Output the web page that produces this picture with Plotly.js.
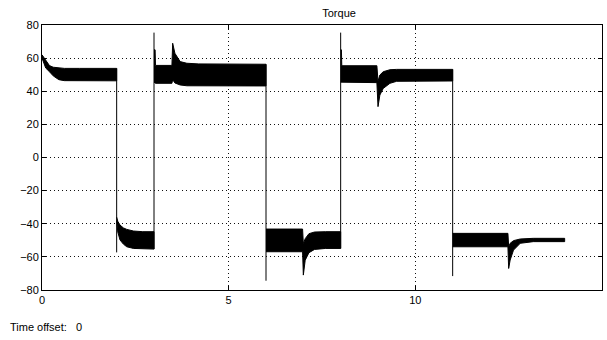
<!DOCTYPE html>
<html>
<head>
<meta charset="utf-8">
<script src="https://cdn.plot.ly/plotly-3.0.1.min.js"></script>
<style>html,body{margin:0;padding:0;background:#fff;}#chart{width:607px;height:340px;}</style>
</head>
<body>
<div id="chart"></div>
<script>
// Ripple band envelopes (upper / lower) per torque segment
const seg1T  = [0, 0.05, 0.1, 0.2, 0.3, 0.45, 0.6, 1.0, 1.5, 2.0];
const seg1Hi = [62, 60.5, 58.5, 55.5, 54.5, 54, 53.8, 53.8, 53.8, 53.8];
const seg1Lo = [60, 57, 54, 51.8, 49.3, 47, 46.4, 46.3, 46.3, 46.3];

const seg2T  = [2.0, 2.03, 2.09, 2.18, 2.27, 2.45, 2.7, 3.0];
const seg2Hi = [-36, -38.5, -40.8, -42.5, -43.4, -44.4, -44.8, -44.8];
const seg2Lo = [-38, -45, -49.8, -52.3, -53.9, -54.9, -55.3, -55.3];

const seg3T  = [3.0, 3.03, 3.04, 3.48, 3.5, 3.56, 3.7, 3.88, 4.2, 5.0, 6.0];
const seg3Hi = [65, 65, 55.6, 55.6, 69, 62.9, 57.9, 56.9, 56.5, 56.3, 56.3];
const seg3Lo = [45.5, 45, 44.8, 44.8, 47, 45, 43.8, 43.3, 43.2, 43.2, 43.2];

const seg4T  = [6.0, 6.98, 7.0, 7.05, 7.15, 7.3, 7.6, 8.0];
const seg4Hi = [-43.2, -43.2, -52, -49, -46, -45, -44.8, -44.8];
const seg4Lo = [-56.9, -56.9, -71, -62, -57.5, -55.5, -54.9, -54.9];

const seg5T  = [8.0, 8.02, 8.03, 8.97, 9.0, 9.05, 9.14, 9.32, 9.5, 9.7, 11.0];
const seg5Hi = [65, 65, 55.4, 55.4, 46, 49.8, 51.8, 53, 53.2, 53.2, 53.2];
const seg5Lo = [45.5, 45.2, 45.2, 45.2, 30.7, 37.7, 41.7, 44.8, 46, 46.2, 46.2];

const seg6T  = [11.0, 12.48, 12.5, 12.54, 12.63, 12.81, 13.16, 13.5, 14.0];
const seg6Hi = [-45.8, -45.8, -54, -51.8, -50.2, -49.2, -48.8, -48.8, -48.8];
const seg6Lo = [-53.9, -53.9, -67, -61.9, -55.9, -51.8, -50.8, -50.8, -50.8];

// Switching transients (vertical spikes)
const transT    = [2, 3, 6, 8, 11];
const transFrom = [53.8, -55.3, 56.3, -54.9, 53.2];
const transTo   = [-57.3, 75.4, -74.4, 75.4, -71.6];

const segments = [
  [seg1T, seg1Hi, seg1Lo], [seg2T, seg2Hi, seg2Lo], [seg3T, seg3Hi, seg3Lo],
  [seg4T, seg4Hi, seg4Lo], [seg5T, seg5Hi, seg5Lo], [seg6T, seg6Hi, seg6Lo]
];

const traces = segments.map(([t, hi, lo]) => ({
  type: 'scatter', mode: 'lines',
  x: t.concat(t.slice().reverse()),
  y: hi.concat(lo.slice().reverse()),
  fill: 'toself', fillcolor: '#000',
  line: {color: '#000', width: 1},
  hoverinfo: 'skip', showlegend: false
}));

const tx = [], ty = [];
transT.forEach((t, i) => { tx.push(t, t, null); ty.push(transFrom[i], transTo[i], null); });
traces.push({type: 'scatter', mode: 'lines', x: tx, y: ty,
  line: {color: '#000', width: 1}, showlegend: false, hoverinfo: 'skip'});

const font = {family: 'Liberation Sans, Arial, sans-serif', size: 11, color: '#000'};

const layout = {
  width: 607, height: 340,
  margin: {l: 42, r: 5, t: 25, b: 50},
  paper_bgcolor: '#fff', plot_bgcolor: '#fff',
  font: font,
  showlegend: false,
  title: {text: 'Torque', font: font, x: 0.5305, xanchor: 'center', xref: 'paper',
          y: 1 - 13/340, yanchor: 'middle', yref: 'container'},
  xaxis: {range: [0, 15], tickvals: [0, 5, 10, 15], ticks: 'inside', ticklen: 4,
          tickcolor: '#000', showline: true, linecolor: '#000', linewidth: 1, mirror: 'ticks',
          showgrid: true, gridcolor: '#111', griddash: '1px,3px', gridwidth: 1,
          zeroline: false, tickfont: font, fixedrange: true},
  yaxis: {range: [-80, 80], tickvals: [-80, -60, -40, -20, 0, 20, 40, 60, 80], ticks: 'inside', ticklen: 4,
          tickcolor: '#000', showline: true, linecolor: '#000', linewidth: 1, mirror: 'ticks',
          showgrid: true, gridcolor: '#111', griddash: '1px,3px', gridwidth: 1,
          zeroline: false, tickfont: font, fixedrange: true},
  annotations: [{text: 'Time offset:&nbsp;&nbsp;&nbsp;0', xref: 'paper', yref: 'paper',
                 x: (8 - 42) / 560, y: -(327 - 290) / 265, xanchor: 'left', yanchor: 'middle',
                 showarrow: false, font: font}]
};

Plotly.newPlot('chart', traces, layout, {displayModeBar: false, staticPlot: true});
</script>
</body>
</html>
